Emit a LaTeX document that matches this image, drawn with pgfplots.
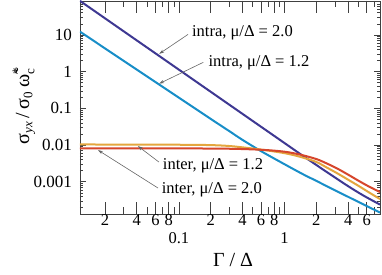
\documentclass[border=0pt]{standalone}
\usepackage{fontspec}
\setmainfont{Liberation Serif}
\usepackage{pgfplots}
\pgfplotsset{compat=1.18}
\usetikzlibrary{arrows.meta}
\definecolor{cIndigo}{RGB}{62,56,146}
\definecolor{cBlue}{RGB}{24,142,200}
\definecolor{cOrange}{RGB}{228,166,62}
\definecolor{cRed}{RGB}{214,70,44}
\newcommand\sub[1]{\mbox{\fontsize{13}{13}\selectfont #1}}
\begin{document}
\begin{tikzpicture}
\begin{axis}[
  scale only axis, width=300pt, height=213pt,
  xmode=log, ymode=log,
  xmin=0.0116, xmax=8, ymin=1.33e-4, ymax=84,
  axis line style={line width=0.9pt, black!75},
  tick style={black!75, line width=0.7pt},
  tick align=inside,
  major tick length=6pt, minor tick length=3.5pt,
  xtick style={/pgfplots/major tick length=12pt, /pgfplots/minor tick length=6.5pt},
  xtick={0.1,1}, xticklabels={0.1,1},
  minor xtick={0.02,0.03,0.04,0.05,0.06,0.07,0.08,0.09,0.2,0.3,0.4,0.5,0.6,0.7,0.8,0.9,2,3,4,5,6,7},
  extra x ticks={0.02,0.04,0.06,0.08,0.2,0.4,0.6,0.8,2,4,6},
  extra x tick labels={2,4,6,8,2,4,6,8,2,4,6},
  extra x tick style={/pgfplots/major tick length=6.5pt, grid=none,
     tick label style={font=\fontsize{10}{12}\selectfont, yshift=18pt}},
  xticklabel style={font=\fontsize{16.5}{18}\selectfont, anchor=base, yshift=-29pt},
  ytick={0.001,0.01,0.1,1,10}, yticklabels={0.001,0.01,0.1,1,10},
  minor ytick={2e-4,3e-4,4e-4,5e-4,6e-4,7e-4,8e-4,9e-4,
    0.002,0.003,0.004,0.005,0.006,0.007,0.008,0.009,
    0.02,0.03,0.04,0.05,0.06,0.07,0.08,0.09,
    0.2,0.3,0.4,0.5,0.6,0.7,0.8,0.9,
    2,3,4,5,6,7,8,9,20,30,40,50,60,70,80},
  yticklabel style={font=\fontsize{17}{19}\selectfont, inner sep=0pt, xshift=-8pt},
  xlabel={Γ / Δ},
  xlabel style={font=\fontsize{20}{22}\selectfont, at={(axis description cs:0.51,-0.216)}, anchor=center},
  ylabel={$\mbox{σ}_{\sub{\itshape yx}}\,\mbox{/}\,\mbox{σ}_{\sub{0}}\,\mbox{ω̃}_{\sub{c}}^{\sub{*}}$},
  ylabel style={font=\fontsize{20}{22}\selectfont, at={(axis description cs:-0.187,0.507)}, anchor=center},
  every axis plot/.append style={line width=2pt, smooth, no markers},
  clip=true,
]
% intra, mu/Delta = 2.0
\addplot[cIndigo] coordinates {
 (0.0116,84.5) (0.03,12.6) (0.1,1.135) (0.3,0.126) (1,0.01135)
 (1.5,0.00505) (2.5,0.00186) (4,7.6e-4) (5.6,4.2e-4) (8,2.4e-4)};
% intra, mu/Delta = 1.2
\addplot[cBlue] coordinates {
 (0.0116,12.3) (0.02,4.3) (0.03,1.97) (0.05,0.74) (0.1,0.196) (0.2,0.0518)
 (0.3,0.024) (0.4,0.01387) (0.6,0.00683) (1,0.00301) (1.5,0.0016)
 (2,0.00106) (3,5.86e-4) (4,3.9e-4) (6,2.18e-4) (8,1.46e-4)};
% inter, mu/Delta = 1.2
\addplot[cOrange] coordinates {
 (0.0116,0.0104) (0.0316,0.01035) (0.1,0.01023) (0.2,0.0100) (0.316,0.00933)
 (0.589,0.00759) (1,0.00603) (1.41,0.00479) (2,0.00347) (2.51,0.00245)
 (3.16,0.0017) (3.98,0.00115) (5.01,7.76e-4) (6.31,5.13e-4) (8,3.39e-4)};
% inter, mu/Delta = 2.0
\addplot[cRed] coordinates {
 (0.0116,0.00813) (0.1,0.00813) (0.316,0.00794) (0.631,0.00741) (1,0.00661)
 (1.41,0.0055) (2,0.00417) (2.51,0.00316) (3.16,0.00229) (3.98,0.00158)
 (5.01,0.00107) (6.31,7.4e-4) (8,5.25e-4)};

\begin{scope}[every node/.style={font=\fontsize{16.5}{18}\selectfont, inner sep=0pt, anchor=west},
  arr/.style={draw=black!60, line width=0.6pt, -{Stealth[length=5pt,width=3.2pt]}}]
\node at (rel axis cs:0.373,0.850) {intra, μ/Δ = 2.0};
\draw[arr] (rel axis cs:0.36,0.843) -- (rel axis cs:0.264,0.752);
\node at (rel axis cs:0.428,0.712) {intra, μ/Δ = 1.2};
\draw[arr] (rel axis cs:0.411,0.712) -- (rel axis cs:0.264,0.612);
\node at (rel axis cs:0.276,0.228) {inter, μ/Δ = 1.2};
\draw[arr] (rel axis cs:0.263,0.244) -- (rel axis cs:0.193,0.319);
\node at (rel axis cs:0.272,0.113) {inter, μ/Δ = 2.0};
\draw[arr] (rel axis cs:0.26,0.122) -- (rel axis cs:0.06,0.300);
\end{scope}
\end{axis}
\pgfresetboundingbox
\path[use as bounding box] (-80pt,-61pt) rectangle (302pt,214pt);
\end{tikzpicture}
\end{document}
